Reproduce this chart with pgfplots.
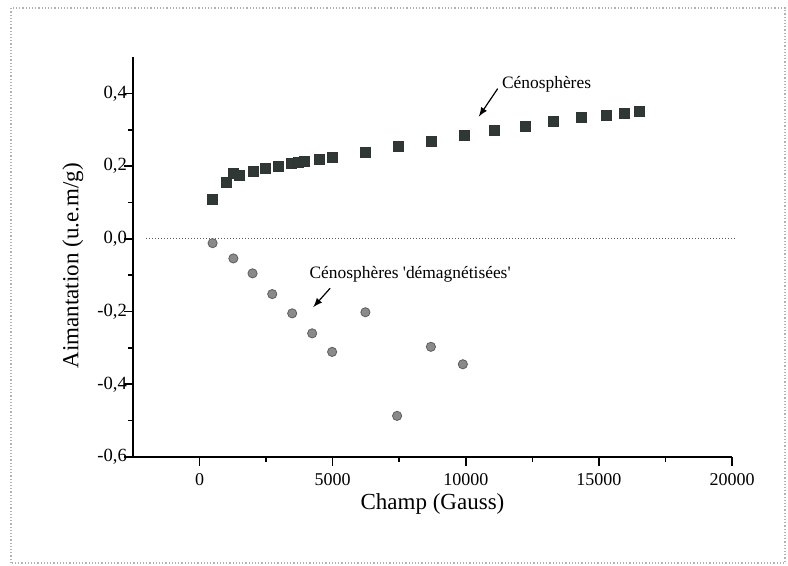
\documentclass[border=0pt]{standalone}
\usepackage{fontspec}
\setmainfont{Liberation Serif}
\usepackage{pgfplots}
\pgfplotsset{compat=1.18}

\definecolor{sqcol}{HTML}{2E3835}
\definecolor{circfill}{HTML}{8A8A8A}
\definecolor{circdraw}{HTML}{5E5E5E}

\begin{document}
\begin{tikzpicture}
% page = 788 x 566 px at 0.5pt per px, axis corner at px (133,457)
\useasboundingbox (-66.5pt,-54.5pt) rectangle (327.5pt,228.5pt);
\draw[gray!60, densely dotted, line width=0.6pt] (-61pt,-53pt) rectangle (326pt,224.5pt);
\begin{axis}[
    at={(0,0)}, anchor=south west,
    scale only axis,
    width=299.5pt, height=200pt,
    xmin=-2500, xmax=20000,
    ymin=-0.6, ymax=0.5,
    axis x line*=bottom, axis y line*=left,
    axis line style={-, line width=1pt},
    tick align=outside,
    major tick length=4.5pt, minor tick length=2.5pt,
    every tick/.style={black, line width=0.8pt},
    xtick={0,5000,10000,15000,20000},
    ytick={-0.6,-0.4,-0.2,0,0.2,0.4},
    minor x tick num=1, minor y tick num=1,
    scaled x ticks=false,
    /pgf/number format/assume math mode=true,
    xticklabel style={/pgf/number format/1000 sep={}, font=\fontsize{9}{11}\selectfont},
    yticklabel style={/pgf/number format/.cd, fixed, fixed zerofill, precision=1, use comma, /tikz/.cd, font=\fontsize{9.3}{11}\selectfont, xshift=5pt},
    xlabel={Champ (Gauss)},
    ylabel={Aimantation (u.e.m/g)},
    xlabel style={at={([yshift=-23.5pt]axis description cs:0.5,0)}, anchor=center, font=\fontsize{11.5}{13}\selectfont},
    ylabel style={at={([xshift=-30pt]axis description cs:0,0.478)}, anchor=center, rotate=0, font=\fontsize{11.5}{13}\selectfont},
    clip=false,
]
% ligne zero
\addplot[gray!70!black, densely dotted, line width=0.5pt, forget plot] coordinates {(-2000,0) (20100,0)};
% Cenospheres
\addplot[only marks, mark=square*, mark size=2.5pt, mark options={fill=sqcol, draw=black!80}] coordinates {
(500,0.108) (1000,0.155) (1270,0.180) (1500,0.174) (2020,0.185) (2480,0.193)
(2950,0.199) (3450,0.207) (3700,0.209) (3940,0.212) (4490,0.218) (4980,0.224)
(6230,0.237) (7480,0.253) (8690,0.268) (9930,0.284) (11090,0.298) (12250,0.309)
(13300,0.322) (14340,0.334) (15280,0.339) (15960,0.344) (16520,0.350)
};
% Cenospheres demagnetisees
\addplot[only marks, mark=*, mark size=2.3pt, mark options={fill=circfill, draw=circdraw}] coordinates {
(490,-0.012) (1270,-0.054) (1990,-0.095) (2730,-0.152) (3480,-0.205)
(4230,-0.260) (4980,-0.311) (6230,-0.202) (7420,-0.487) (8690,-0.297) (9890,-0.345)
};
\node[anchor=west, font=\fontsize{8.7}{10}\selectfont, inner sep=0pt] at (axis cs:11350,0.426) {Cénosphères};
\draw[-latex, line width=0.6pt] (axis cs:11200,0.413) -- (axis cs:10490,0.336);
\node[anchor=west, font=\fontsize{8.7}{10}\selectfont, inner sep=0pt] at (axis cs:4120,-0.097) {Cénosphères \textquotesingle démagnétisées\textquotesingle};
\draw[-latex, line width=0.6pt] (axis cs:4906,-0.136) -- (axis cs:4270,-0.188);
\end{axis}
\end{tikzpicture}
\end{document}
